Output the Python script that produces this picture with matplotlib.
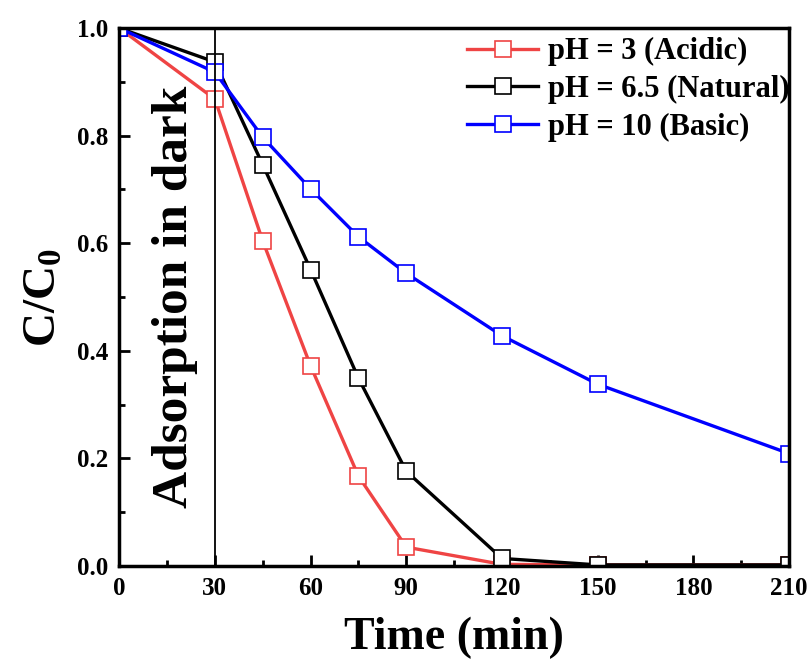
import matplotlib.pyplot as plt
from matplotlib.ticker import MultipleLocator

# Degradation data
time = [0, 30, 45, 60, 75, 90, 120, 150, 210]
ph3 = [1.0, 0.868, 0.604, 0.372, 0.167, 0.035, 0.003, 0.002, 0.002]
ph65 = [1.0, 0.937, 0.746, 0.551, 0.349, 0.176, 0.014, 0.002, 0.002]
ph10 = [1.0, 0.918, 0.797, 0.701, 0.612, 0.544, 0.428, 0.338, 0.209]
labels = ['pH = 3 (Acidic)', 'pH = 6.5 (Natural)', 'pH = 10 (Basic)']
colors = ['#EF4444', 'black', '#0000FF']

plt.rcParams['font.family'] = ['Liberation Serif', 'DejaVu Serif']
plt.rcParams['font.weight'] = 'bold'
plt.rcParams['mathtext.fontset'] = 'custom'
plt.rcParams['mathtext.rm'] = 'Liberation Serif:bold'
plt.rcParams['mathtext.it'] = 'Liberation Serif:bold'

fig = plt.figure(figsize=(8.11, 6.69), dpi=100)
ax = fig.add_axes([0.147, 0.154, 0.826, 0.804])

for y, lab, c in zip([ph3, ph65, ph10], labels, colors):
    ax.plot(time, y, color=c, lw=2.4, marker='s', markersize=11,
            markerfacecolor='white', markeredgecolor=c, markeredgewidth=1.2,
            label=lab)

# end of adsorption period
ax.axvline(30, color='black', lw=1.3)
ax.text(17.5, 0.5, 'Adsorption in dark', rotation=90, fontsize=37,
        fontweight='bold', ha='center', va='center')

ax.set_xlim(0, 210)
ax.set_ylim(0, 1.0)
ax.xaxis.set_major_locator(MultipleLocator(30))
ax.xaxis.set_minor_locator(MultipleLocator(15))
ax.yaxis.set_major_locator(MultipleLocator(0.2))
ax.yaxis.set_minor_locator(MultipleLocator(0.1))
ax.tick_params(which='major', direction='in', length=8, width=2, labelsize=18, pad=8)
ax.tick_params(which='minor', direction='in', length=4, width=2)
for s in ax.spines.values():
    s.set_linewidth(2.5)

ax.set_xlabel('Time (min)', fontsize=33, fontweight='bold', labelpad=12)
ax.set_ylabel('C/C$_0$', fontsize=34, fontweight='bold', labelpad=8)

ax.legend(loc='upper right', frameon=False, fontsize=22, handlelength=2.3,
          borderaxespad=0.1, borderpad=0.2, labelspacing=0.28, handletextpad=0.35,
          bbox_to_anchor=(1.015, 1.0))

fig.savefig('out.png', dpi=100)
